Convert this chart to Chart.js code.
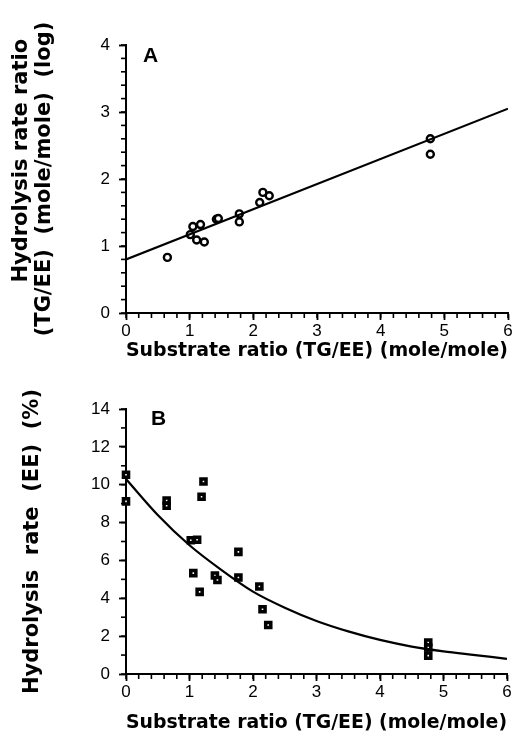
<!DOCTYPE html>
<html>
<head>
<meta charset="utf-8">
<script src="https://cdn.jsdelivr.net/npm/chart.js@4.4.1/dist/chart.umd.min.js"></script>
<style>
  html, body { margin: 0; padding: 0; background: #fff; }
  #wrap { position: relative; width: 523px; height: 739px; }
  #wrap canvas { position: absolute; left: 0; }
  #chartA { top: 0; }
  #chartB { top: 375px; }
</style>
</head>
<body>
<div id="wrap">
  <canvas id="chartA" width="523" height="370"></canvas>
  <canvas id="chartB" width="523" height="364"></canvas>
</div>
<script>
// panel A - hydrolysis rate ratio (log) vs substrate ratio
let xA = [0.65, 1.01, 1.05, 1.11, 1.17, 1.23, 1.42, 1.45, 1.78, 1.78, 2.10, 2.15, 2.25, 4.78, 4.78]
let yA = [0.83, 1.17, 1.29, 1.09, 1.32, 1.06, 1.40, 1.41, 1.48, 1.36, 1.65, 1.80, 1.75, 2.60, 2.37]
let lineAx = [0, 6]
let lineAy = [0.80, 3.05]

// panel B - hydrolysis rate of EE (%)
let xB = [0, 0, 0.64, 0.64, 1.22, 1.19, 1.02, 1.12, 1.06, 1.16, 1.40, 1.44, 1.77, 1.77, 2.10, 2.15, 2.24, 4.76, 4.76, 4.76]
let yB = [10.53, 9.12, 9.17, 8.89, 10.17, 9.36, 7.07, 7.09, 5.33, 4.34, 5.20, 4.97, 6.45, 5.10, 4.62, 3.42, 2.59, 1.66, 1.40, 0.97]
let curveBx = [0, 0.5, 1, 1.5, 2, 2.5, 3, 3.5, 4, 4.5, 5, 5.5, 6]
let curveBy = [10.3, 8.4, 6.8, 5.5, 4.35, 3.5, 2.8, 2.25, 1.8, 1.45, 1.2, 1.0, 0.8]

let xTitle = "Substrate ratio (TG/EE) (mole/mole)"
let yTitleA = ["     Hydrolysis rate ratio", "(TG/EE)  (mole/mole)  (log)"]
let yTitleB = "Hydrolysis  rate  (EE)  (%)"

const FONT = "'Liberation Sans', Arial, Helvetica, sans-serif"
const TITLE_FONT = "'DejaVu Sans', 'Liberation Sans', sans-serif"

function pairs(xs, ys) {
    return xs.map((x, i) => ({x: x, y: ys[i]}))
}

// short minor ticks between the labelled ones
const minorTicks = {
    id: 'minorTicks',
    afterDraw(chart, args, opts) {
        let ctx = chart.ctx
        let xs = chart.scales.x
        let ys = chart.scales.y
        ctx.save()
        ctx.strokeStyle = '#000'
        ctx.lineWidth = 1.6
        for (let v = xs.min; v <= xs.max + 1e-9; v += opts.xStep) {
            let px = xs.getPixelForValue(v)
            ctx.beginPath()
            ctx.moveTo(px, xs.top)
            ctx.lineTo(px, xs.top + 5)
            ctx.stroke()
        }
        for (let v = ys.min; v <= ys.max + 1e-9; v += opts.yStep) {
            let py = ys.getPixelForValue(v)
            ctx.beginPath()
            ctx.moveTo(ys.right, py)
            ctx.lineTo(ys.right - 5, py)
            ctx.stroke()
        }
        ctx.restore()
    }
}

const panelLetter = {
    id: 'panelLetter',
    afterDraw(chart, args, opts) {
        let ctx = chart.ctx
        let area = chart.chartArea
        ctx.save()
        ctx.fillStyle = '#000'
        ctx.font = "bold 21px " + FONT
        ctx.textBaseline = 'middle'
        ctx.fillText(opts.text, area.left + opts.dx, area.top + opts.dy)
        ctx.restore()
    }
}

function axisX(height, titleBottom) {
    return {
        type: 'linear',
        min: 0, max: 6,
        afterFit: s => { s.height = height },
        border: { display: true, color: '#000', width: 2 },
        grid: { display: true, drawOnChartArea: false, drawTicks: true, tickLength: 7, tickColor: '#000', tickWidth: 1.8 },
        ticks: { stepSize: 1, color: '#000', padding: 1, font: { family: FONT, size: 17 } },
        title: { display: true, text: xTitle, color: '#000', padding: { top: 0, bottom: titleBottom }, font: { family: TITLE_FONT, size: 20, weight: 'bold' } }
    }
}

function axisY(max, step, title, titleTop) {
    return {
        type: 'linear',
        min: 0, max: max,
        afterFit: s => { s.width = 126 },
        border: { display: true, color: '#000', width: 2 },
        grid: { display: true, drawOnChartArea: false, drawTicks: true, tickLength: 7, tickColor: '#000', tickWidth: 1.8 },
        ticks: { stepSize: step, color: '#000', padding: 9, font: { family: FONT, size: 17 } },
        title: { display: true, text: title, color: '#000', padding: { top: titleTop, bottom: 0 }, font: { family: TITLE_FONT, size: 21, weight: 'bold', lineHeight: 1.05 } }
    }
}

window.onload = () => {
    Chart.defaults.animation = false

    new Chart(document.querySelector('#chartA').getContext('2d'), {
        type: 'scatter',
        data: {
            datasets: [{
                type: 'line',
                data: pairs(lineAx, lineAy),
                borderColor: '#000',
                borderWidth: 2.2,
                pointRadius: 0,
                fill: false
            }, {
                data: pairs(xA, yA),
                pointStyle: 'circle',
                pointRadius: 3.5,
                borderWidth: 2.4,
                borderColor: '#000',
                backgroundColor: '#fff',
                clip: false
            }]
        },
        options: {
            responsive: false,
            maintainAspectRatio: false,
            layout: { padding: { top: 45, right: 15, left: 0, bottom: 0 } },
            plugins: {
                legend: { display: false },
                tooltip: { enabled: false },
                minorTicks: { xStep: 0.2, yStep: 0.2 },
                panelLetter: { text: 'A', dx: 17, dy: 11 }
            },
            scales: { x: axisX(57, 7), y: axisY(4, 1, yTitleA, 11) }
        },
        plugins: [minorTicks, panelLetter]
    })

    new Chart(document.querySelector('#chartB').getContext('2d'), {
        type: 'scatter',
        data: {
            datasets: [{
                type: 'line',
                data: pairs(curveBx, curveBy),
                borderColor: '#000',
                borderWidth: 2.2,
                pointRadius: 0,
                cubicInterpolationMode: 'monotone',
                fill: false
            }, {
                data: pairs(xB, yB),
                pointStyle: 'rect',
                pointRadius: 3.6,
                borderWidth: 3.5,
                borderColor: '#000',
                backgroundColor: '#fff',
                clip: false
            }]
        },
        options: {
            responsive: false,
            maintainAspectRatio: false,
            layout: { padding: { top: 34, right: 16, left: 0, bottom: 0 } },
            plugins: {
                legend: { display: false },
                tooltip: { enabled: false },
                minorTicks: { xStep: 0.2, yStep: 1 },
                panelLetter: { text: 'B', dx: 25, dy: 10 }
            },
            scales: { x: axisX(65, 4), y: axisY(14, 2, yTitleB, 22) }
        },
        plugins: [minorTicks, panelLetter]
    })
}
</script>
</body>
</html>
